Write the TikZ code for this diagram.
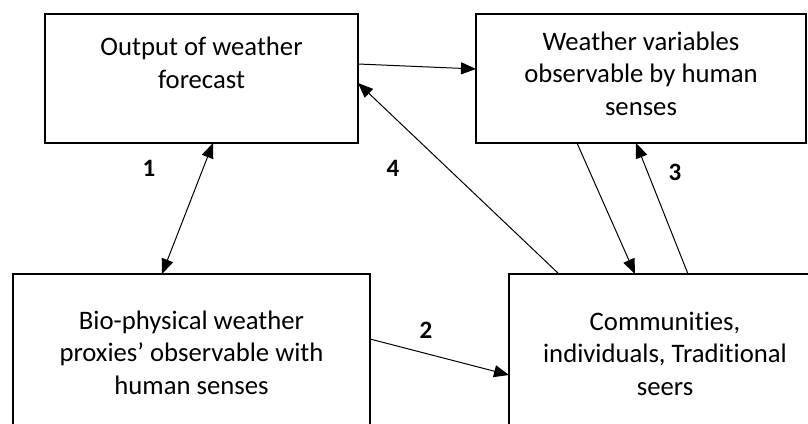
\documentclass[tikz,border=0pt]{standalone}
\usepackage{fontspec}
\setmainfont{Carlito}[Ligatures=NoCommon]
\usetikzlibrary{arrows.meta,calc}
\begin{document}
\begin{tikzpicture}[x=1pt,y=-1pt,
  box/.style={draw, line width=2.2pt, outer sep=0pt, inner sep=0pt},
  txt/.style={align=center, inner sep=0pt, font=\fontsize{26.7}{32.5}\selectfont},
  num/.style={inner sep=0pt, font=\fontsize{25}{30}\selectfont\bfseries},
  conn/.style={line width=1pt, -{Triangle[length=15pt,width=12pt]}},
  dconn/.style={line width=1pt, {Triangle[length=15pt,width=12pt]}-{Triangle[length=15pt,width=12pt]}}]
\useasboundingbox (0,0) rectangle (808,423);
\clip (0,0) rectangle (808,423);
\node[box, minimum width=313pt, minimum height=129pt] (A) at (201.5,78.5) {};
\node[box, minimum width=330pt, minimum height=129pt] (B) at (641,78.5) {};
\node[box, minimum width=357pt, minimum height=190pt] (C) at (191.5,369) {};
\node[box, minimum width=312pt, minimum height=190pt] (D) at (665,369) {};
\node[txt, anchor=base] (ta) at (201.5,88) {Output of weather\\forecast};
\node[txt, anchor=base] (tb) at (641,115) {Weather variables\\observable by human\\senses};
\node[txt, anchor=base] (tc) at (191.5,394) {Bio-physical weather\\proxies’ observable with\\human senses};
\node[txt, anchor=base] (td) at (665,395) {Communities,\\individuals, Traditional\\seers};
\draw[conn] ($(A.north east)+(0,50)$) -- ($(B.north west)+(0,55)$);
\draw[conn] ($(D.north west)+(50,0)$) -- ($(A.north east)+(0,69)$);
\draw[dconn] ($(A.south west)+(168,0)$) -- ($(C.north west)+(149,0)$);
\draw[conn] ($(C.north east)+(0,65)$) -- ($(D.north west)+(0,101)$);
\draw[conn] ($(B.south west)+(101,0)$) -- ($(D.north west)+(126,0)$);
\draw[conn] ($(D.north west)+(179,0)$) -- ($(B.south west)+(160,0)$);
\node[num] (n1) at (149,168) {1};
\node[num] (n4) at (393,168) {4};
\node[num] (n3) at (675,172) {3};
\node[num] (n2) at (426,330) {2};
\end{tikzpicture}
\end{document}
